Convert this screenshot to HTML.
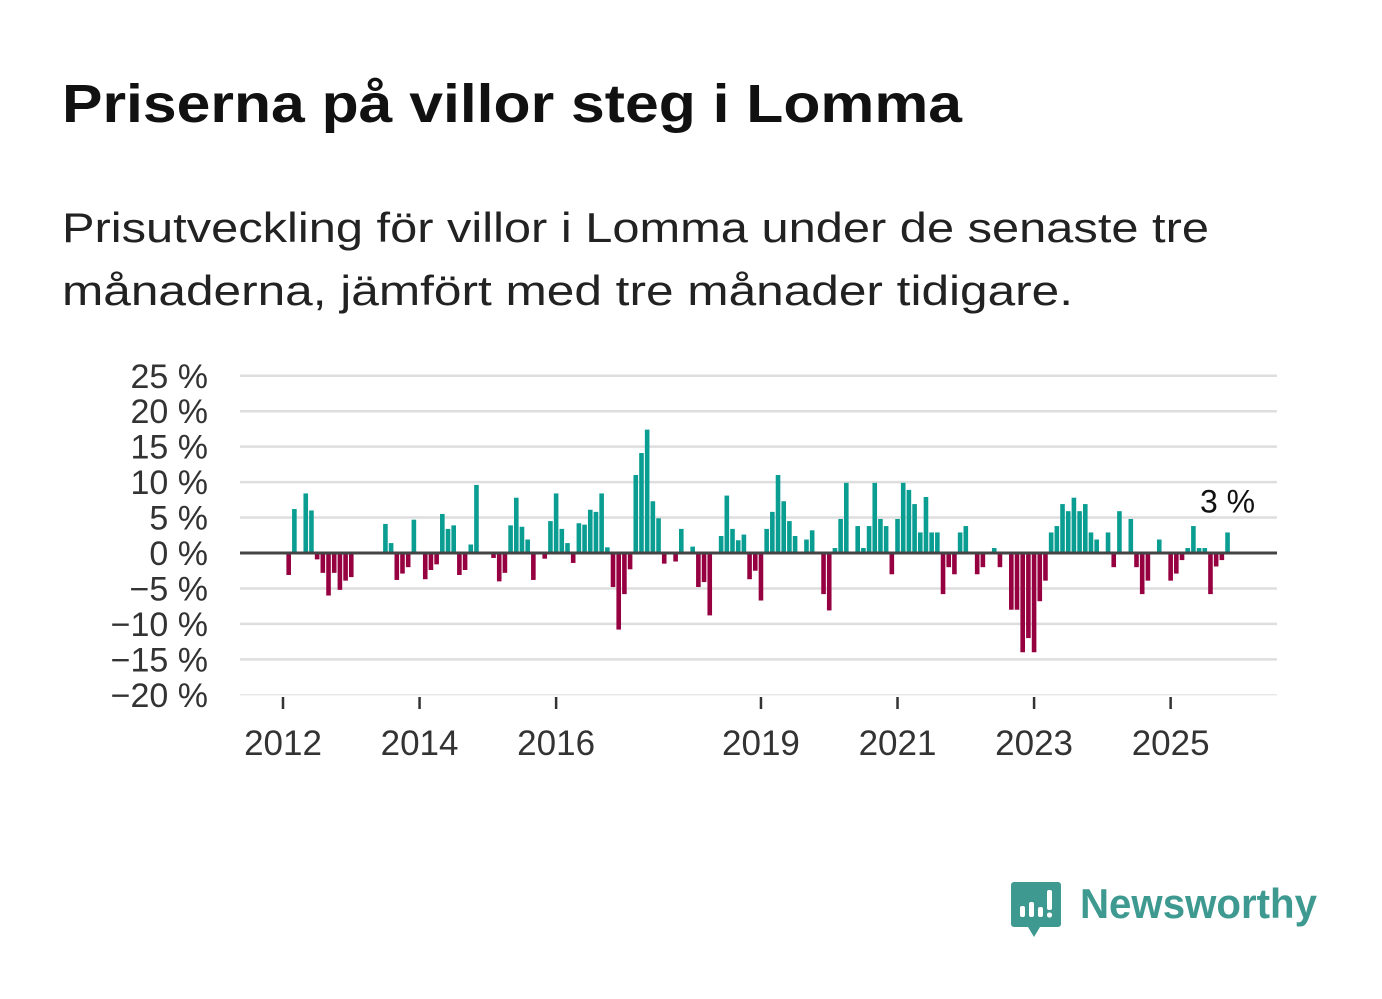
<!DOCTYPE html>
<html><head><meta charset="utf-8">
<style>
body{margin:0;background:#fff;width:1382px;height:999px;overflow:hidden;font-family:"Liberation Sans","DejaVu Sans",sans-serif;}
svg{position:absolute;left:0;top:0}
</style></head><body>
<svg id="chart" width="1382" height="999">
<text x="62" y="122" font-size="54" font-weight="bold" fill="#111" textLength="900" lengthAdjust="spacingAndGlyphs">Priserna på villor steg i Lomma</text>
<text x="62" y="242" font-size="42" fill="#222" textLength="1147" lengthAdjust="spacingAndGlyphs">Prisutveckling för villor i Lomma under de senaste tre</text>
<text x="62" y="305" font-size="42" fill="#222" textLength="1011" lengthAdjust="spacingAndGlyphs">månaderna, jämfört med tre månader tidigare.</text>
<g id="grid"></g><g id="bars"></g><g id="axes"></g>
<g>
<path d="M1014 882 h44 a3 3 0 0 1 3 3 v39 a3 3 0 0 1 -3 3 h-18 l-6 10 l-6 -10 h-14 a3 3 0 0 1 -3 -3 v-39 a3 3 0 0 1 3 -3z" fill="#3e9a90"/>
<rect x="1020" y="906" width="5" height="11" rx="2" fill="#fff"/>
<rect x="1029" y="902" width="5" height="15" rx="2" fill="#fff"/>
<rect x="1038" y="907" width="5" height="10" rx="2" fill="#fff"/>
<rect x="1047" y="890" width="5" height="20" rx="2" fill="#fff"/>
<circle cx="1049.5" cy="915" r="2.6" fill="#fff"/>
<text x="1080" y="918" font-size="42" font-weight="bold" fill="#3e9a90" textLength="237" lengthAdjust="spacingAndGlyphs">Newsworthy</text>
</g>
</svg>
<script>
const startYear = 2012;
const values = [0,-3.1,6.2,0,8.4,6.0,-0.9,-2.8,-6,-2.8,-5.2,-3.9,-3.4,0,0,0,0,0,4.1,1.4,-3.8,-2.9,-2,4.7,0,-3.7,-2.4,-1.6,5.5,3.4,3.9,-3.1,-2.4,1.2,9.6,0,0,-0.7,-4,-2.8,3.9,7.8,3.7,1.9,-3.8,0,-0.8,4.5,8.4,3.4,1.4,-1.4,4.2,4,6.1,5.8,8.4,0.8,-4.8,-10.8,-5.8,-2.3,11,14.1,17.4,7.3,4.9,-1.5,0,-1.2,3.4,0.2,0.9,-4.8,-4.1,-8.8,0,2.4,8.1,3.4,1.8,2.6,-3.7,-2.5,-6.7,3.4,5.8,11,7.3,4.5,2.4,0,1.9,3.2,0,-5.8,-8.1,0.7,4.8,9.9,0,3.8,0.7,3.8,9.9,4.8,3.8,-3,4.8,9.9,8.9,6.9,2.9,7.9,2.9,2.9,-5.8,-2,-3,2.9,3.8,0,-3,-2,0,0.7,-2,0,-8,-8,-14,-12,-14,-6.8,-3.9,2.9,3.8,6.9,5.9,7.8,5.9,6.9,2.9,1.9,0,2.9,-2,5.9,0,4.8,-2,-5.8,-3.9,0,1.9,0,-3.9,-2.9,-1,0.7,3.8,0.7,0.7,-5.8,-1.9,-1,2.9];
const yTicks = [25,20,15,10,5,0,-5,-10,-15,-20];
const yearTicks = [2012,2014,2016,2019,2021,2023,2025];
const lastLabel = "3 %";

const NS="http://www.w3.org/2000/svg";
const y = v => 553 - v*7.09;
const x = m => 283 + m*5.69;
function mk(tag, attrs, parent){const e=document.createElementNS(NS,tag);for(const k in attrs)e.setAttribute(k,attrs[k]);parent.appendChild(e);return e;}
const grid=document.getElementById('grid'), bars=document.getElementById('bars'), axes=document.getElementById('axes');
yTicks.forEach(t=>{
  const l=mk('line',{x1:240,x2:1277,y1:y(t),y2:y(t),stroke:t===-20?'#e8e8e8':'#dedede','stroke-width':t===-20?1.5:2.5},grid);
  
  
  const tx=mk('text',{x:208,y:y(t)+12,'font-size':34,fill:'#333','text-anchor':'end'},axes);
  tx.textContent=(t<0?'\u2212'+(-t):t)+' %';
  
  
});
values.forEach((v,i)=>{
  if(v===0)return;
  const r=mk('rect',{x:x(i)-2.3,width:4.6,y:Math.min(y(v),y(0)),height:Math.abs(y(v)-y(0)),fill:v>0?'#0a9d92':'#960041'},bars);
  
  
});
const zl=mk('line',{x1:240,x2:1277,y1:y(0),y2:y(0),stroke:'#444','stroke-width':3},axes);


yearTicks.forEach(yr=>{
  const m=(yr-startYear)*12;
  const tk=mk('line',{x1:x(m),x2:x(m),y1:697,y2:709,stroke:'#333','stroke-width':2.5},axes);
  
  
  const tx=mk('text',{x:x(m),y:755,'font-size':35,fill:'#333','text-anchor':'middle'},axes);
  tx.textContent=yr;
  
  
});
const li=values.length-1;
const lb=mk('text',{x:x(li),y:y(values[li])-20,'font-size':32,fill:'#111','text-anchor':'middle',stroke:'#fff','stroke-width':6,'paint-order':'stroke'},axes);
lb.textContent=lastLabel;


</script>
</body></html>
